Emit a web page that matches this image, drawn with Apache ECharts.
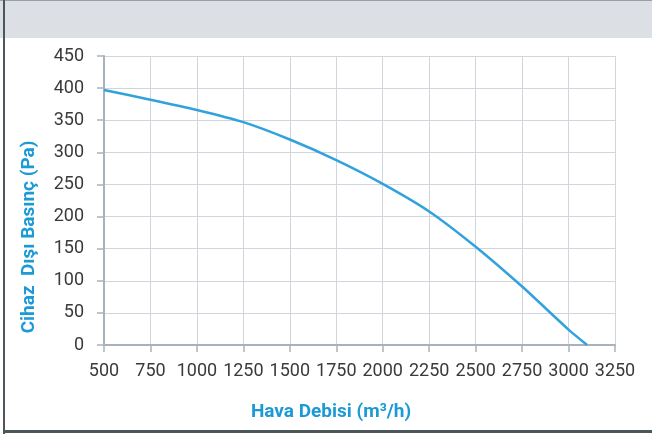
<!DOCTYPE html>
<html>
<head>
<meta charset="utf-8">
<script src="https://cdn.jsdelivr.net/npm/echarts@6/dist/echarts.min.js"></script>
<style>
html,body{margin:0;padding:0;background:#fff;}
#c{width:652px;height:434px;}
</style>
</head>
<body>
<div id="c"></div>
<script>
const airflow = [500, 750, 1000, 1250, 1500, 1750, 2000, 2250, 2500, 2750, 3000, 3100];
const pressure = [397, 382, 366, 347, 320, 288, 251, 208, 153, 91, 24, 0];
const xTitle = 'Hava Debisi (m³/h)';
const yTitle = 'Cihaz  Dışı Basınç (Pa)';

const chart = echarts.init(document.getElementById('c'), null, {renderer: 'canvas'});
const blue = '#1b9ad6';
const labelFont = {color: '#3a3a3a', fontFamily: 'Roboto', fontSize: 18, formatter: v => String(v)};
chart.setOption({
  animation: false,
  backgroundColor: '#ffffff',
  grid: {left: 104, right: 37, top: 56, bottom: 89, containLabel: false},
  graphic: [
    {type: 'rect', shape: {x: 0, y: 0, width: 652, height: 38}, style: {fill: '#dcdfe3'}, z: 0},
    {type: 'rect', shape: {x: 0, y: 0, width: 652, height: 1}, style: {fill: '#9aa1a6'}, z: 1},
    {type: 'rect', shape: {x: 3, y: 0, width: 2, height: 434}, style: {fill: '#4c575b'}, z: 1},
    {type: 'rect', shape: {x: 3, y: 430, width: 649, height: 3}, style: {fill: '#4c575b'}, z: 1},
    {type: 'text', x: 331, y: 412, style: {text: xTitle, fill: blue, font: 'bold 19px Roboto', textAlign: 'center', textVerticalAlign: 'middle'}},
    {type: 'text', x: 29, y: 237, rotation: Math.PI / 2, style: {text: yTitle, fill: blue, font: 'bold 19px Roboto', textAlign: 'center', textVerticalAlign: 'middle'}}
  ],
  xAxis: {
    type: 'value', min: 500, max: 3250, interval: 250,
    axisLine: {show: true, lineStyle: {color: '#a9b2bb', width: 2}},
    axisTick: {show: true, length: 7, lineStyle: {color: '#a9b2bb', width: 1.5}},
    axisLabel: Object.assign({margin: 17}, labelFont),
    splitLine: {show: true, lineStyle: {color: '#d0d5db', width: 1}}
  },
  yAxis: {
    type: 'value', min: 0, max: 450, interval: 50,
    axisLine: {show: true, lineStyle: {color: '#a9b2bb', width: 2}},
    axisTick: {show: true, length: 7, lineStyle: {color: '#a9b2bb', width: 1.5}},
    axisLabel: Object.assign({margin: 20}, labelFont),
    splitLine: {show: true, lineStyle: {color: '#d0d5db', width: 1}}
  },
  series: [{
    type: 'line',
    data: airflow.map((x, i) => [x, pressure[i]]),
    smooth: 0.2,
    showSymbol: false,
    lineStyle: {color: '#31a2dc', width: 2.5},
    z: 5
  }]
});
</script>
</body>
</html>
